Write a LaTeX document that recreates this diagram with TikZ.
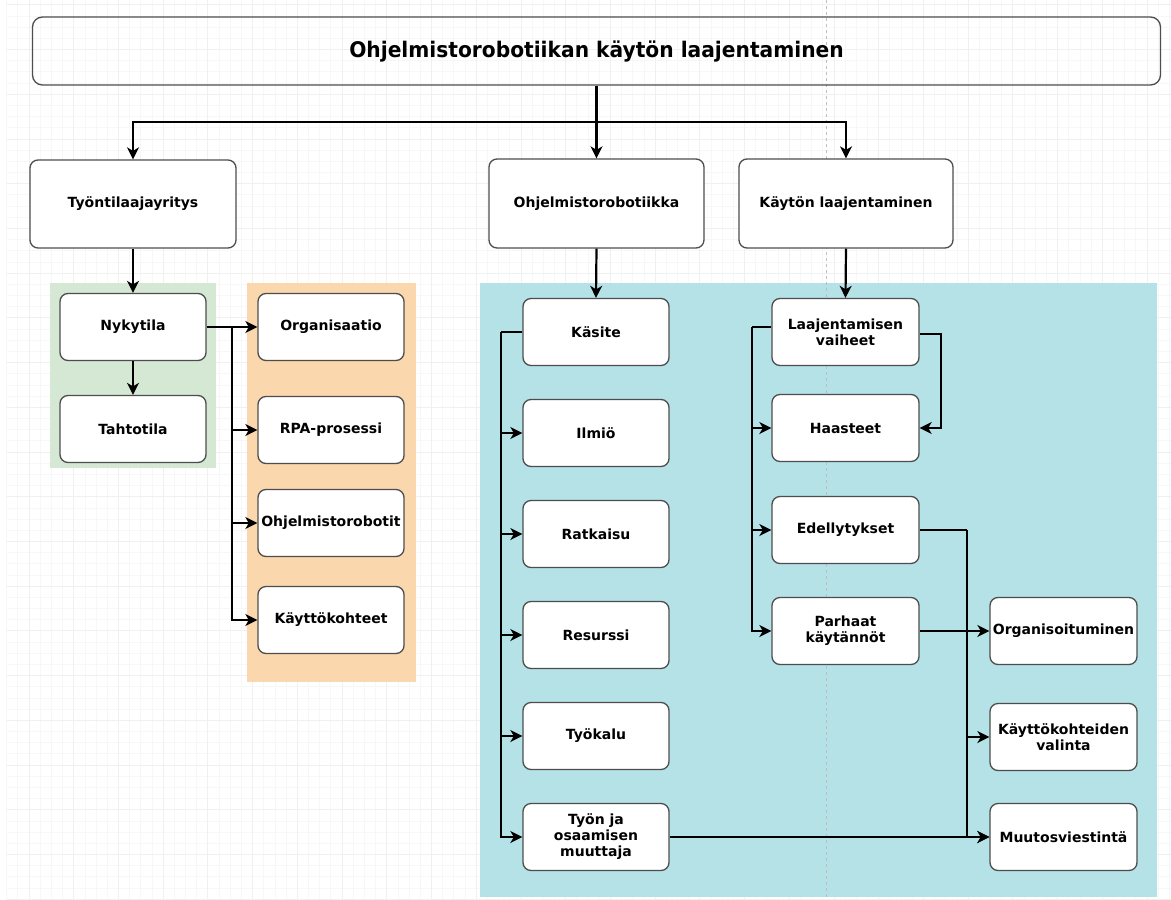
\documentclass[tikz,border=0pt]{standalone}
\usepackage{fontspec}
\setmainfont{DejaVu Sans}
\newfontfamily\titlefont[FakeStretch=0.94]{DejaVu Sans}
\usetikzlibrary{arrows.meta,calc}
\definecolor{rgreen}{HTML}{D5E8D4}
\definecolor{rorange}{HTML}{FAD7AC}
\definecolor{rblue}{HTML}{B5E2E7}
\definecolor{boxline}{HTML}{4D4D4D}
\begin{document}
\begin{tikzpicture}[x=1pt,y=-1pt,
  gridminor/.style={draw=black!3, line width=0.8pt},
  gridmajor/.style={draw=black!6, line width=0.8pt},
  box/.style={draw=boxline, line width=1.3pt, rounded corners=8pt, fill=white, align=center,
    font=\bfseries\fontsize{14}{16}\selectfont, inner sep=0pt, text=black},
  sbox/.style={box, minimum width=146pt, minimum height=67pt},
  conn/.style={draw=black, line width=2.2pt},
  arr/.style={conn, -{Stealth[length=12pt,width=12pt,inset=3.5pt]}}
]
\useasboundingbox (0,0) rectangle (1171,900);
\fill[white] (0,0) rectangle (1171,900);
% background grid
\foreach \i in {0,...,104} \draw[gridminor] ({6.64+\i*11.18},0) -- ({6.64+\i*11.18},900);
\foreach \j in {0,...,80} \draw[gridminor] (6.64,{4.8+\j*11.18}) -- (1171,{4.8+\j*11.18});
\foreach \i in {0,...,25} \draw[gridmajor] ({29+\i*44.72},0) -- ({29+\i*44.72},900);
\foreach \j in {0,...,20} \draw[gridmajor] (6.64,{4.8+\j*44.72}) -- (1171,{4.8+\j*44.72});

% regions
\fill[rgreen] (50,283) rectangle (216,468);
\fill[rorange] (246.5,283) rectangle (415.5,682);
\fill[rblue] (480,283) rectangle (1157,897);

% page-break line
\draw[black!25, line width=1pt, dash pattern=on 3pt off 3pt] (826,0) -- (826,900);

% top level
\node[box, fill=none, minimum width=1128pt, minimum height=68pt, rounded corners=10pt,
  font=\titlefont\bfseries\fontsize{21.5}{24}\selectfont] (title) at (596.5,51) {Ohjelmistorobotiikan käytön laajentaminen};
\node[box, minimum width=206pt, minimum height=88pt] (tty) at (133,204) {Työntilaajayritys};
\node[box, minimum width=215pt, minimum height=89pt] (ohj) at (596.5,203.5) {Ohjelmistorobotiikka};
\node[box, minimum width=214pt, minimum height=89pt] (kay) at (846,203.5) {Käytön laajentaminen};

\coordinate (split) at (596.5,122);
\draw[conn] (title.south) -- (split);
\draw[arr] (split) -| (tty.north);
\draw[arr] (split) -- (ohj.north);
\draw[arr] (split) -| (kay.north);

% left group
\node[sbox] (nyk) at (133,327) {Nykytila};
\node[sbox] (tah) at (133,429) {Tahtotila};
\node[sbox] (org) at (331,327) {Organisaatio};
\node[sbox] (rpa) at (331,430) {RPA-prosessi};
\node[sbox] (orb) at (331,523) {Ohjelmistorobotit};
\node[sbox] (kko) at (331,620) {Käyttökohteet};

\draw[arr] (tty.south) -- (nyk.north);
\draw[arr] (nyk.south) -- (tah.north);
\draw[arr] (nyk.east) -- (org.west);
\coordinate (t1) at (232,327);
\draw[arr] (t1) |- (kko.west);
\draw[arr] (t1 |- rpa.west) -- (rpa.west);
\draw[arr] (t1 |- orb.west) -- (orb.west);

% middle group
\node[sbox] (kas) at (596,332) {Käsite};
\node[sbox] (ilm) at (596,433) {Ilmiö};
\node[sbox] (rat) at (596,534) {Ratkaisu};
\node[sbox] (res) at (596,635) {Resurssi};
\node[sbox] (tyk) at (596,736) {Työkalu};
\node[sbox] (tjo) at (596,837) {Työn ja\\osaamisen\\muuttaja};

\draw[arr] (ohj.south) -- (kas.north);
\coordinate (t2) at (501,332);
\draw[conn] (kas.west) -- (t2);
\draw[arr] (t2) |- (tjo.west);
\draw[arr] (t2 |- ilm.west) -- (ilm.west);
\draw[arr] (t2 |- rat.west) -- (rat.west);
\draw[arr] (t2 |- res.west) -- (res.west);
\draw[arr] (t2 |- tyk.west) -- (tyk.west);

% right group
\node[sbox, minimum width=147pt] (lv) at (845.5,332) {Laajentamisen\\vaiheet};
\node[sbox, minimum width=147pt] (haa) at (845.5,428) {Haasteet};
\node[sbox, minimum width=147pt] (ede) at (845.5,530) {Edellytykset};
\node[sbox, minimum width=147pt] (pk) at (845.5,631) {Parhaat\\käytännöt};

\draw[arr] (kay.south) -- (lv.north);
\coordinate (t4) at (752,327);
\draw[conn] ($(lv.west)+(0,-5)$) -- (t4);
\draw[arr] (t4) |- (pk.west);
\draw[arr] (t4 |- haa.west) -- (haa.west);
\draw[arr] (t4 |- ede.west) -- (ede.west);
\coordinate (loop) at (941,334);
\draw[arr] ($(lv.east)+(0,2)$) -- (loop) |- (haa.east);

% far right group
\node[sbox, minimum width=147pt] (ors) at (1063.5,631) {Organisoituminen};
\node[sbox, minimum width=147pt] (kv) at (1063.5,737) {Käyttökohteiden\\valinta};
\node[sbox, minimum width=147pt] (mv) at (1063.5,837) {Muutosviestintä};

\coordinate (t3) at (967,530);
\draw[conn] (ede.east) -- (t3);
\draw[arr] (t3) |- (mv.west);
\draw[arr] (t3 |- kv.west) -- (kv.west);
\draw[arr] (pk.east) -- (ors.west);
\draw[arr] (tjo.east) -- (mv.west);
\end{tikzpicture}
\end{document}
